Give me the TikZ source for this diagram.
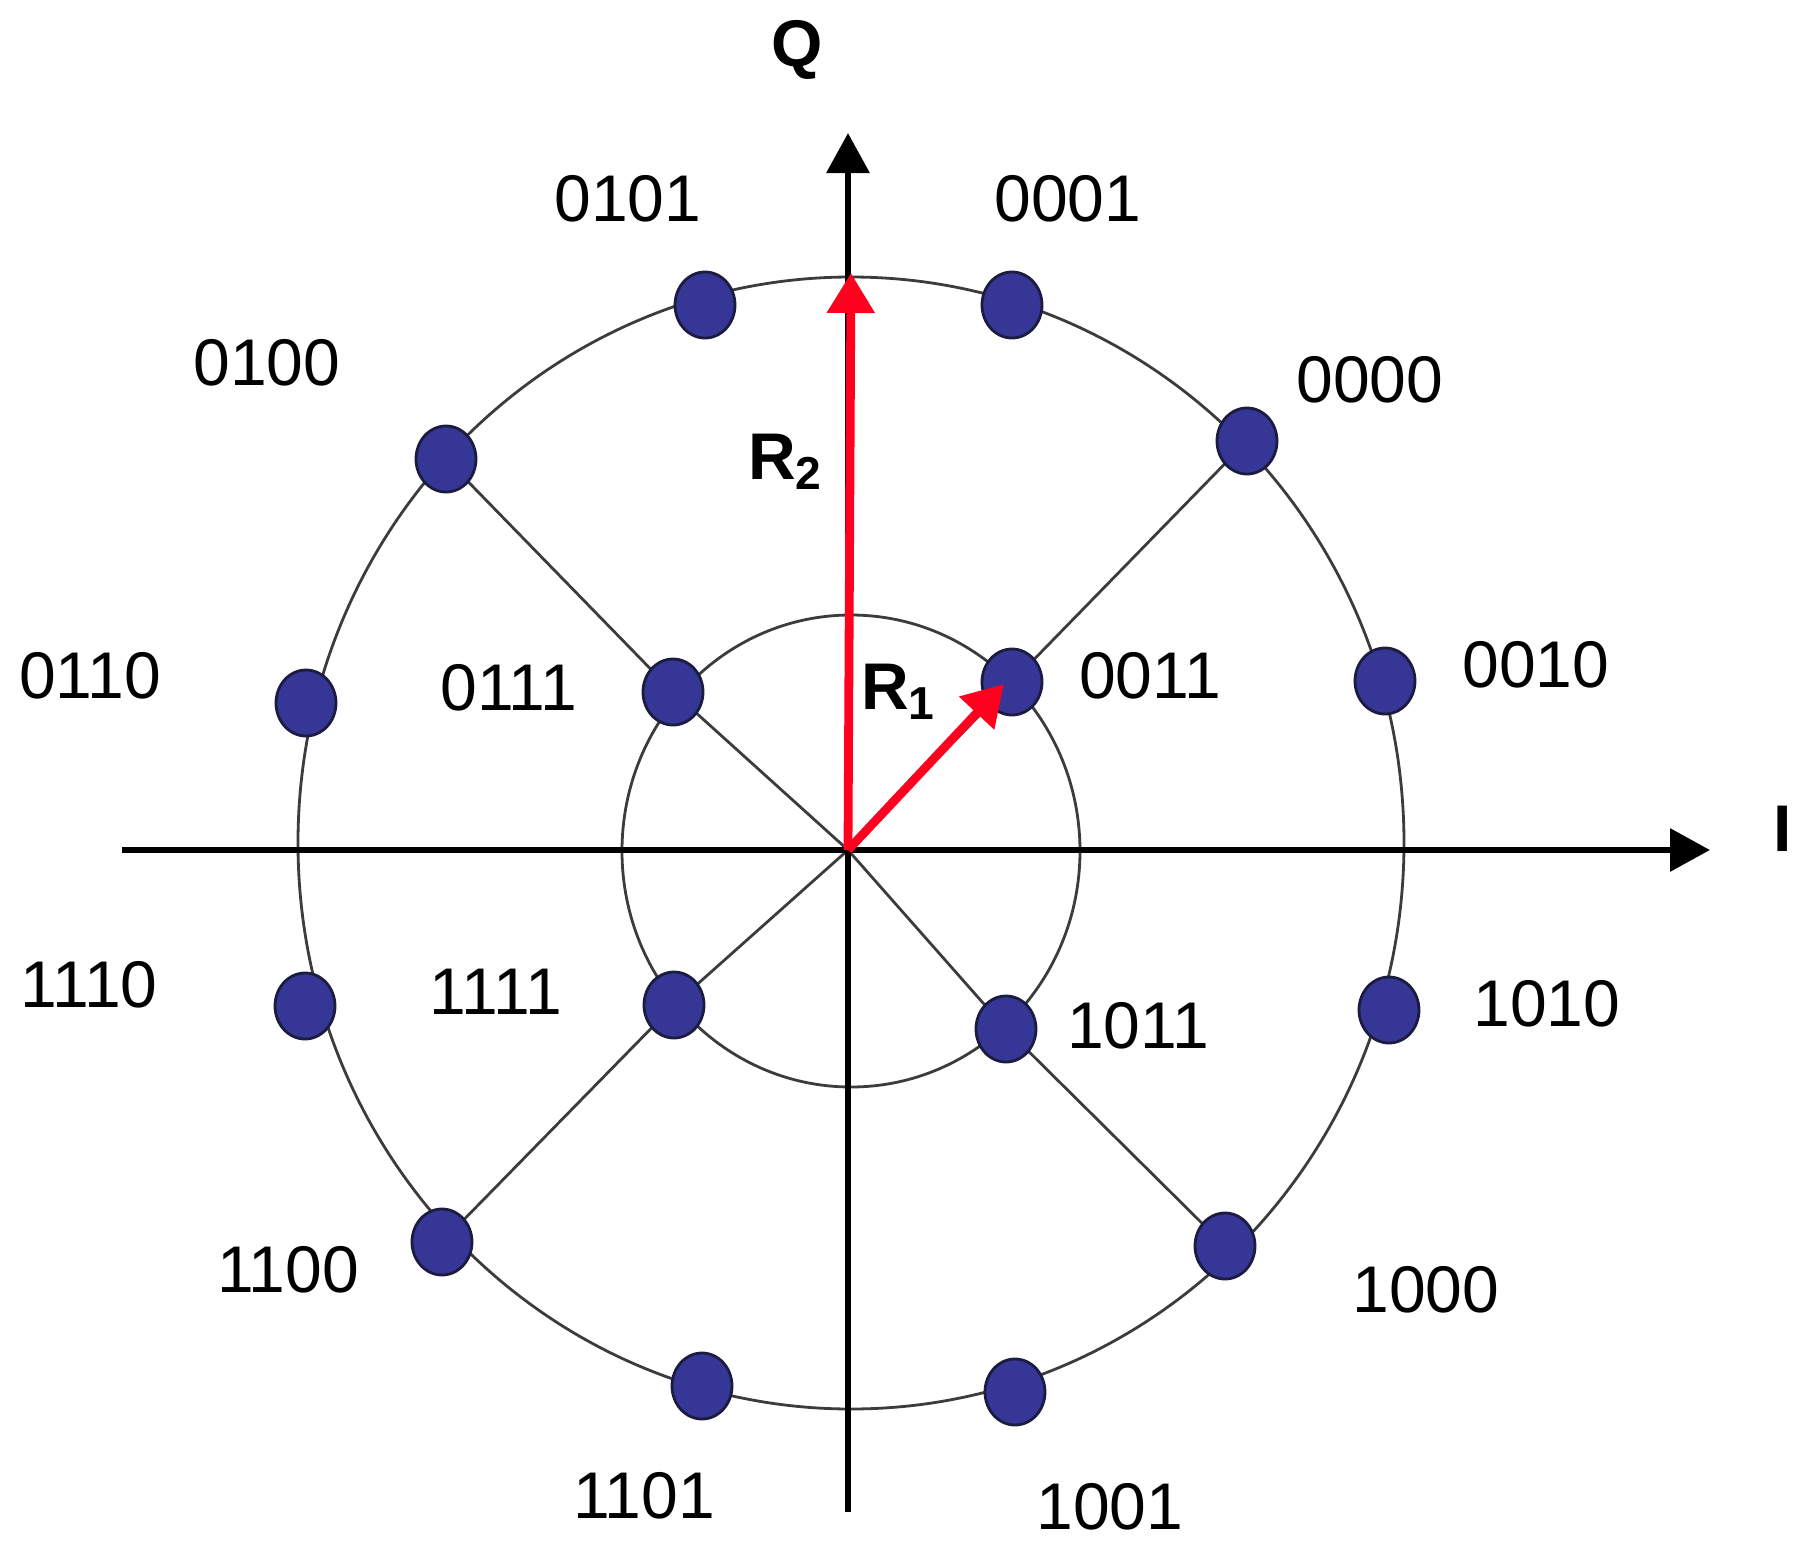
\documentclass[tikz,border=0pt]{standalone}
\usepackage{fontspec}
\setmainfont{Liberation Sans}
\usetikzlibrary{arrows.meta,shapes.geometric}
\pgfdeclarelayer{bg}
\pgfsetlayers{bg,main}
\definecolor{dotfill}{RGB}{54,54,150}
\definecolor{dotline}{RGB}{28,28,64}
\definecolor{ringline}{RGB}{60,60,60}
\definecolor{vecred}{RGB}{255,0,30}
\begin{document}
\begin{tikzpicture}[x=0.25pt,y=-0.25pt,
  dot/.style={ellipse,draw=dotline,fill=dotfill,line width=0.7pt,minimum width=15pt,minimum height=16.5pt,inner sep=0pt},
  lbl/.style={font=\fontsize{16.5}{20}\selectfont,inner sep=0pt},
  axlbl/.style={font=\fontsize{16.5}{20}\selectfont\bfseries,inner sep=0pt},
  ring/.style={draw=ringline,line width=0.7pt},
  axis/.style={draw=black,line width=1.6pt,-{Triangle[length=10pt,width=10.5pt]}},
  vec/.style={draw=vecred,line width=2.2pt,-{Triangle[length=10pt,width=11.5pt]}}]
\useasboundingbox (0,0) rectangle (1803,1554);
% key points
\coordinate (O) at (848,850);
\coordinate (outerC) at (851,843);
\coordinate (innerC) at (851,851);
\coordinate (axL) at (122,850);
\coordinate (axR) at (1710,850);
\coordinate (axB) at (848,1512);
\coordinate (axT) at (848,133);
\coordinate (tipR2) at (851,273);
\coordinate (tipR1) at (1004,684);
% outer dots
\node[dot] (d0101) at (705,305) {};
\node[dot] (d0001) at (1012,305) {};
\node[dot] (d0000) at (1247,441) {};
\node[dot] (d0010) at (1385,681) {};
\node[dot] (d1010) at (1389,1010) {};
\node[dot] (d1000) at (1225,1246) {};
\node[dot] (d1001) at (1015,1392) {};
\node[dot] (d1101) at (702,1386) {};
\node[dot] (d1100) at (442,1242) {};
\node[dot] (d1110) at (305,1006) {};
\node[dot] (d0110) at (306,703) {};
\node[dot] (d0100) at (446,459) {};
% inner dots
\node[dot] (d0111) at (673,692) {};
\node[dot] (d0011) at (1012,682) {};
\node[dot] (d1011) at (1006,1029) {};
\node[dot] (d1111) at (674,1005) {};
\begin{pgfonlayer}{bg}
\draw[ring] (outerC) ellipse [x radius=553, y radius=566];
\draw[ring] (innerC) ellipse [x radius=229, y radius=236];
\draw[ring] (d0100.center) -- (d0111.center) -- (O);
\draw[ring] (d0000.center) -- (d0011.center) -- (O);
\draw[ring] (d1100.center) -- (d1111.center) -- (O);
\draw[ring] (d1000.center) -- (d1011.center) -- (O);
\draw[axis] (axL) -- (axR);
\draw[axis] (axB) -- (axT);
\end{pgfonlayer}
% vectors
\draw[vec] (O) -- (tipR2);
\draw[vec] (O) -- (tipR1);
% axis labels
\node[axlbl] (Q) at (797,50) {Q};
\node[axlbl] (I) at (1783,829) {I};
\node[axlbl] (R2) at (786,462) {R\textsubscript{2}};
\node[axlbl] (R1) at (899,692) {R\textsubscript{1}};
% point labels
\node[lbl] at (628,199) {0101};
\node[lbl] at (1068,199) {0001};
\node[lbl] at (267,363) {0100};
\node[lbl] at (1370,380) {0000};
\node[lbl] at (90,676) {0110};
\node[lbl] at (509,688) {0111};
\node[lbl] at (1150,676) {0011};
\node[lbl] at (1536,665) {0010};
\node[lbl] at (89,985) {1110};
\node[lbl] at (496,992) {1111};
\node[lbl] at (1138,1026) {1011};
\node[lbl] at (1547,1004) {1010};
\node[lbl] at (288,1270) {1100};
\node[lbl] at (1426,1290) {1000};
\node[lbl] at (644,1496) {1101};
\node[lbl] at (1110,1507) {1001};
\end{tikzpicture}
\end{document}
